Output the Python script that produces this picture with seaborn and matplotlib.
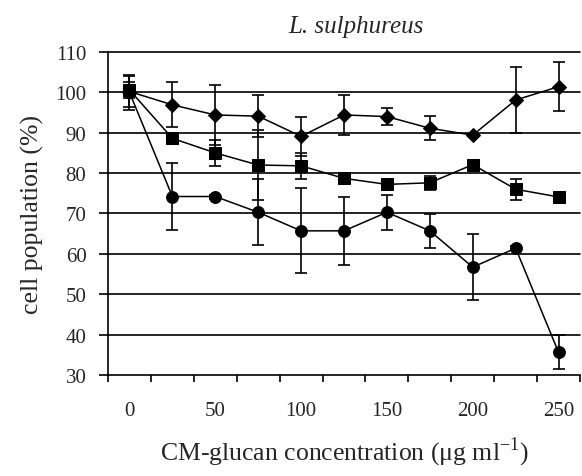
import numpy as np
import pandas as pd
import matplotlib
matplotlib.use("Agg")
import matplotlib.pyplot as plt
import seaborn as sns

# concentrations (ug/ml) and cell population (%) with error bars
conc = [0, 25, 50, 75, 100, 125, 150, 175, 200, 225, 250]

diamond = [100.2, 96.9, 94.4, 94.1, 89.1, 94.4, 94.0, 91.1, 89.4, 98.1, 101.4]
diamond_err = [3.8, 5.6, 7.5, 5.2, 4.9, 5.0, 2.0, 3.0, 0.0, 8.2, 6.0]

square = [100.6, 88.6, 85.0, 82.0, 81.8, 78.7, 77.2, 77.6, 82.1, 76.0, 74.1]
square_err = [2.0, 1.0, 3.2, 8.7, 3.3, 0.8, 1.3, 1.7, 0.5, 2.6, 1.0]

circle = [100.0, 74.2, 74.2, 70.3, 65.7, 65.7, 70.3, 65.7, 56.7, 61.4, 35.6]
circle_err = [4.4, 8.2, 0.5, 8.2, 10.5, 8.4, 4.4, 4.2, 8.1, 0.5, 4.2]

xtick_labels = ["0", "50", "100", "150", "200", "250"]

sns.set_theme(style="white")
plt.rcParams['font.family'] = ['Liberation Serif', 'DejaVu Serif']
plt.rcParams['mathtext.fontset'] = 'custom'
plt.rcParams['mathtext.rm'] = 'Liberation Serif'

fig = plt.figure(figsize=(5.82, 4.77), dpi=100)
ax = fig.add_axes([0.1856, 0.2117, 0.8110, 0.6773])

series = [
    (diamond, diamond_err, 'D', 7.5),
    (square, square_err, 's', 8.0),
    (circle, circle_err, 'o', 8.5),
]
for vals, errs, mk, ms in series:
    df = pd.DataFrame({'conc': conc, 'pop': vals})
    ax.errorbar(conc, vals, yerr=errs, fmt='none', ecolor='black',
                elinewidth=1.2, capsize=4.5, capthick=1.2, zorder=3)
    sns.lineplot(data=df, x='conc', y='pop', ax=ax, color='black',
                 marker=mk, markersize=ms, markeredgecolor='black',
                 markerfacecolor='black', linewidth=1.1, errorbar=None,
                 zorder=4)

ax.set_xlim(-12.5, 262.5)
ax.set_ylim(30, 110)
ax.set_yticks(np.arange(30, 111, 10))
for yv in np.arange(40, 111, 10):
    ax.axhline(yv, color='black', linewidth=1.2, zorder=1, clip_on=False)

ax.set_xticks([0, 50, 100, 150, 200, 250])
ax.set_xticklabels(xtick_labels)
ax.set_xticks(np.arange(-12.5, 263, 25), minor=True)
ax.tick_params(axis='x', which='major', length=0, pad=19, labelsize=15)
ax.tick_params(axis='x', which='minor', length=5, width=1.2, color='black',
               direction='out', bottom=True)
ax.tick_params(axis='y', which='major', length=6.5, width=1.2, color='black',
               direction='out', left=True, pad=9, labelsize=15)

for side in ['top', 'right']:
    ax.spines[side].set_visible(False)
for side in ['left', 'bottom']:
    ax.spines[side].set_color('black')
    ax.spines[side].set_linewidth(1.2)

ax.set_xlabel(r'CM-glucan concentration ($\mathregular{\mu}$g ml$^{\mathregular{-1}}$)',
              fontsize=18.5, labelpad=10)
ax.set_ylabel('cell population (%)', fontsize=18.5, labelpad=8)
fig.text(356 / 582, 1 - 27 / 477, 'L. sulphureus', fontsize=18,
         fontstyle='italic', ha='center', va='center')

fig.savefig('out.png', dpi=100)
